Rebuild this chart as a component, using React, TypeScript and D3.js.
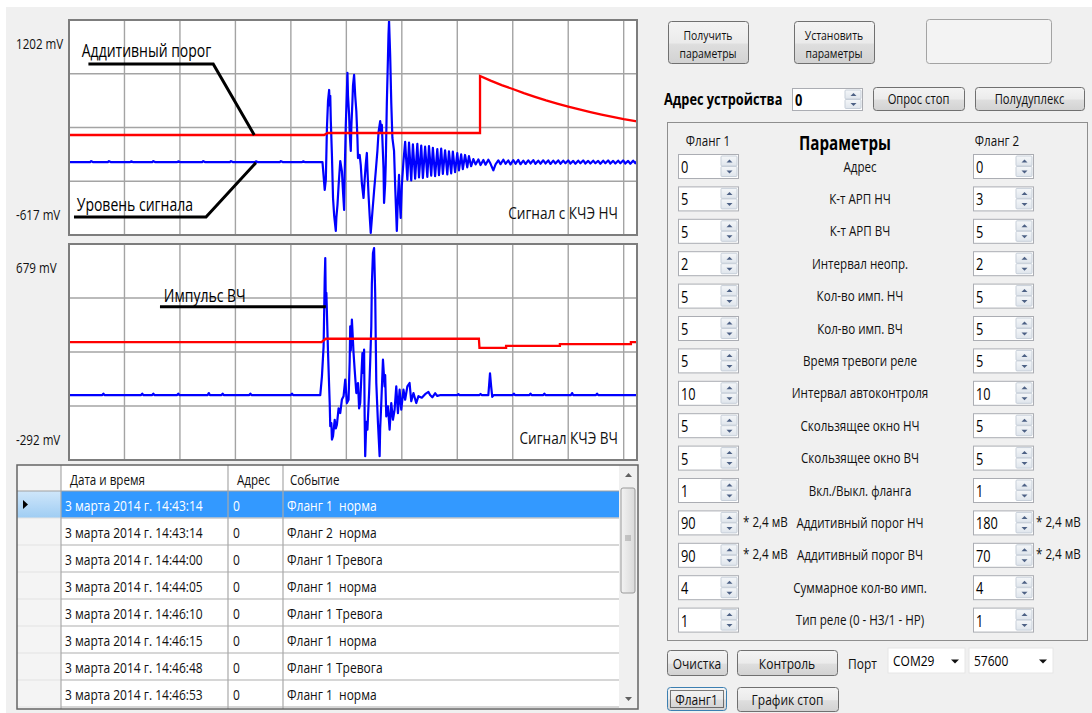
import React from 'react';
import * as d3 from 'd3';

const FONT = '"Segoe UI", "Open Sans", "Noto Sans", sans-serif';
const SX = 0.8; // the capture is squeezed horizontally

// samples: [index 0..1024, mV]
const nfRange: [number, number] = [-617, 1202];
const hfRange: [number, number] = [-292, 679];

const nfSignal: [number, number][] = [
  [0, 0], [38, 0], [40, 8], [43, 0], [70, 0], [72, 8], [75, 0], [110, 0], [112, 6], [115, 0],
  [150, 0], [152, 8], [155, 0], [195, 0], [197, 6], [200, 0], [240, 0], [242, 8], [245, 0],
  [290, 0], [292, 8], [295, 0], [335, 0], [337, 6], [340, 0], [380, 0], [382, 8], [385, 0],
  [420, 0], [422, 6], [425, 0], [457, 0],
  [461, -236], [463, -150], [465, 288], [467, 520], [469, 610], [470, 480], [471, 560], [472, 347],
  [474, 60], [476, -304], [478, -450], [481, -583], [482, -470], [484, -363], [486, -200],
  [489, 9], [492, -76], [494, -250], [496, -405], [497, -100], [499, 314], [501, 600], [502, 754],
  [503, 560], [505, 398], [506, 250], [508, 94], [509, 300], [511, 517], [512, 650], [514, 737],
  [516, 560], [518, 432], [520, 200], [521, 34], [524, 60], [526, -25], [528, -180], [531, -304],
  [533, -150], [535, -20], [537, 77], [538, -60], [540, -279], [542, -450], [544, -600], [547, -420],
  [550, -245], [553, -80], [556, 94], [558, 250], [561, 347], [563, 250], [564, 314], [567, -50],
  [568, -346], [570, -180], [571, -25], [573, 500], [575, 880], [576, 1080], [577, 1193], [578, 1050],
  [579, 906], [581, 500], [583, 204], [586, 94], [588, -200], [591, -583], [593, -300], [595, -109],
  [596, -300], [598, -473], [600, -200], [603, 9],
  [606, 172], [610, -150], [613, 165], [617, -155], [620, 150], [624, -140], [628, 155], [631, -130],
  [635, 140], [638, -135], [642, 130], [646, -125], [649, 135], [653, -115], [656, 120], [660, -120],
  [664, 110], [667, -110], [671, 115], [674, -100], [678, 100], [682, -105], [685, 90], [689, -95],
  [692, 88], [696, -85], [700, 75], [703, -70], [707, 65], [710, -60], [714, 60], [718, -45],
  [721, 50], [725, -35],
  [729, 25], [733, -20], [738, 22], [742, -25], [747, 18], [751, -22], [756, 20], [760, -15],
  [765, -70], [769, -20], [774, 15], [778, -18], [783, 20], [787, -15], [792, 14], [796, -20],
  [801, 16], [805, -14], [810, 18], [814, -18], [819, 12], [823, -16], [828, 15], [832, -12],
  [837, 16], [841, -15], [846, 12], [850, -14], [855, 15], [859, -12], [864, 14], [868, -16],
  [873, 12], [877, -12], [882, 14], [886, -14], [891, 12], [895, -10], [900, 14], [904, -12],
  [909, 10], [913, -14], [918, 12], [922, -10], [927, 14], [931, -12], [936, 10], [940, -12],
  [945, 12], [949, -10], [954, 10], [958, -14], [963, 12], [967, -10], [972, 14], [976, -12],
  [981, 10], [985, -12], [990, 12], [994, -10], [999, 14], [1003, -12], [1008, 10], [1012, -14],
  [1017, 12], [1021, -10], [1024, 8],
];

const nfThreshold: [number, number][] = [
  [0, 229], [460, 229], [466, 246], [741, 246], [741, 728], [760, 689], [780, 651], [800, 618],
  [820, 583], [840, 552], [860, 522], [880, 495], [900, 470], [920, 446], [940, 423], [960, 402],
  [980, 383], [1000, 364], [1024, 344],
];

const hfSignal: [number, number][] = [
  [0, 0], [60, 0], [62, 6], [64, 0], [130, 0], [132, 6], [134, 0], [150, 0], [152, 6], [154, 0],
  [195, 0], [197, 6], [199, 0], [250, 0], [252, 9], [254, 0], [275, 0], [277, 6], [279, 0],
  [325, 0], [327, 6], [329, 0], [400, 0], [402, 6], [404, 0], [453, 0],
  [456, 84], [459, 219], [461, 520], [462, 616], [463, 400], [464, 459], [467, 189], [470, -36],
  [471, -140], [473, -126], [474, -200], [476, -185], [479, -111], [481, -150], [483, -133],
  [486, -60], [489, -81], [492, -20], [495, -5], [498, 69], [501, -36], [504, -21], [506, 150],
  [507, 309], [508, 200], [510, 339], [513, 189], [515, 114], [518, 9], [521, 54], [523, -60],
  [525, -36], [527, 80], [529, 189], [530, 100], [532, 204], [533, -96], [534, -275], [536, -120],
  [538, -156], [541, 9], [543, 150], [545, 309], [546, 500], [548, 639], [550, 661], [551, 560],
  [552, 459], [553, 250], [554, 54], [557, -126], [560, -275], [561, -150], [563, -36], [566, 159],
  [569, 39], [570, 90], [572, -96], [575, -51], [578, -156], [581, -36], [584, -111], [587, -66],
  [590, 39], [593, -81], [596, 24], [599, -66], [603, 24], [606, -21], [610, 39], [614, 54],
  [617, -28], [621, 9], [626, -36], [630, -5], [636, -12], [642, 4], [648, 14], [651, 0],
  [655, -10], [660, 8], [664, -4], [670, 0], [700, 0], [702, 4], [704, 0], [740, 0], [742, 5],
  [744, 0], [756, 0], [759, 98], [761, 40], [763, -8], [766, 0], [800, 0], [802, 6], [804, 0],
  [830, 0], [832, 6], [834, 0], [855, 0], [857, 6], [859, 0], [905, 0], [907, 9], [909, 0],
  [950, 0], [952, 6], [954, 0], [1024, 0],
];

const hfThreshold: [number, number][] = [
  [0, 238], [455, 238], [463, 253], [739, 253], [740, 212], [788, 212], [788, 221], [885, 221],
  [885, 229], [1013, 229], [1013, 238], [1024, 238],
];

// callouts, anchored in data units
const nfNotes = [
  { text: 'Аддитивный порог', at: [23, 948], path: [[35, 830], [260, 830], [334, 229]] },
  { text: 'Уровень сигнала', at: [14, -355], path: [[9, -465], [247, -465], [337, -5]] },
];
const hfNotes = [
  { text: 'Импульс ВЧ', at: [171, 450], path: [[164, 397], [463, 397]] },
];

const logColumns = ['Дата и время', 'Адрес', 'Событие'];
const logDates = [
  '3 марта 2014 г. 14:43:14', '3 марта 2014 г. 14:43:14', '3 марта 2014 г. 14:44:00',
  '3 марта 2014 г. 14:44:05', '3 марта 2014 г. 14:46:10', '3 марта 2014 г. 14:46:15',
  '3 марта 2014 г. 14:46:48', '3 марта 2014 г. 14:46:53',
];
const logAddr = ['0', '0', '0', '0', '0', '0', '0', '0'];
const logEvents = [
  'Фланг 1  норма', 'Фланг 2  норма', 'Фланг 1 Тревога', 'Фланг 1  норма',
  'Фланг 1 Тревога', 'Фланг 1  норма', 'Фланг 1 Тревога', 'Фланг 1  норма',
];

const paramLabels = [
  'Адрес', 'К-т АРП НЧ', 'К-т АРП ВЧ', 'Интервал неопр.', 'Кол-во имп. НЧ', 'Кол-во имп. ВЧ',
  'Время тревоги реле', 'Интервал автоконтроля', 'Скользящее окно НЧ', 'Скользящее окно ВЧ',
  'Вкл./Выкл. фланга', 'Аддитивный порог НЧ', 'Аддитивный порог ВЧ', 'Суммарное кол-во имп.',
  'Тип реле (0 - НЗ/1 - НР)',
];
const flank1Values = ['0', '5', '5', '2', '5', '5', '5', '10', '5', '5', '1', '90', '90', '4', '1'];
const flank2Values = ['0', '3', '5', '2', '5', '5', '5', '10', '5', '5', '1', '180', '70', '4', '1'];
const unitRows = [11, 12];

function T({ x, y, size = 13, anchor = 'start', weight = 400, fill = '#111', children }: any) {
  return (
    <text transform={`translate(${x},${y}) scale(${SX},1)`} fontSize={size} fontFamily={FONT}
      fontWeight={weight} fill={fill} textAnchor={anchor} dominantBaseline="central"
      style={{ whiteSpace: 'pre' }}>{children}</text>
  );
}

function Scope({ top, bottom, range, signal, threshold, notes, title }: any) {
  const left = 69, right = 637;
  const x = d3.scaleLinear().domain([0, 1024]).range([left, right]);
  const y = d3.scaleLinear().domain(range).range([bottom, top]);
  const line = d3.line<number[]>().x(d => x(d[0])).y(d => y(d[1]));
  const xTicks = d3.range(100, 1024, 100);
  const yTicks = d3.range(1, 4).map(k => range[0] + (range[1] - range[0]) * k / 4);
  const clipId = `clip${top}`;
  return (
    <g>
      <defs>
        <clipPath id={clipId}><rect x={left} y={top} width={right - left} height={bottom - top} /></clipPath>
      </defs>
      <rect x={left} y={top} width={right - left} height={bottom - top} fill="#fff" />
      {xTicks.map(t => <line key={t} x1={x(t)} x2={x(t)} y1={top} y2={bottom} stroke="#a4a4a4" strokeWidth={1.4} />)}
      {yTicks.map(v => <line key={v} x1={left} x2={right} y1={y(v)} y2={y(v)} stroke="#a4a4a4" strokeWidth={1.4} />)}
      <g clipPath={`url(#${clipId})`}>
        <path d={line(signal) || ''} fill="none" stroke="#0000ff" strokeWidth={2.2} strokeLinejoin="round" />
        <path d={line(threshold) || ''} fill="none" stroke="#ff0000" strokeWidth={2.3} />
        {notes.map((n: any) => (
          <g key={n.text}>
            <path d={line(n.path) || ''} fill="none" stroke="#000" strokeWidth={3} />
            <T x={x(n.at[0])} y={y(n.at[1])} size={17.5} fill="#000">{n.text}</T>
          </g>
        ))}
      </g>
      <T x={right - 19} y={bottom - 22} size={17} anchor="end" fill="#111">{title}</T>
      <rect x={left} y={top} width={right - left} height={bottom - top} fill="none" stroke="#7d7d7d" strokeWidth={2} />
      <T x={16} y={top + 23} size={14.5}>{`${range[1]} mV`}</T>
      <T x={16} y={bottom - 21} size={14.5}>{`${range[0]} mV`}</T>
    </g>
  );
}

function EventLog() {
  const left = 17, right = 638, top = 465, headH = 26, rowH = 27, bottom = 709;
  const cols = [61, 228, 283, 619];
  const rowY = (i: number) => top + headH + i * rowH;
  const textX = [65, 233, 287];
  const headX = [70, 237, 290];
  return (
    <g>
      <defs>
        <clipPath id="logClip"><rect x={left} y={top} width={right - left} height={bottom - top} /></clipPath>
        <linearGradient id="selHead" x1="0" y1="0" x2="0" y2="1">
          <stop offset="0" stopColor="#cfe6fa" /><stop offset="1" stopColor="#9fcdf3" />
        </linearGradient>
        <linearGradient id="thumb" x1="0" y1="0" x2="1" y2="0">
          <stop offset="0" stopColor="#f3f3f3" /><stop offset="1" stopColor="#d9d9d9" />
        </linearGradient>
      </defs>
      <rect x={left} y={top} width={right - left} height={bottom - top} fill="#fff" />
      <g clipPath="url(#logClip)">
        <rect x={left} y={top} width={cols[0] - left} height={bottom - top} fill="#f4f4f4" />
        {logDates.map((d, i) => {
          const y0 = rowY(i);
          const sel = i === 0;
          const c = sel ? '#fff' : '#111';
          return (
            <g key={i}>
              {sel && <rect x={cols[0]} y={y0} width={cols[3] - cols[0]} height={rowH} fill="#3399ff" />}
              {sel && <rect x={left} y={y0} width={cols[0] - left} height={rowH} fill="url(#selHead)" />}
              {sel && <path d={`M23,${y0 + 9} L28,${y0 + 13.5} L23,${y0 + 18} Z`} fill="#000" />}
              <line x1={cols[0]} x2={cols[3]} y1={y0 + rowH} y2={y0 + rowH} stroke="#c8c8c8" strokeWidth={1.5} />
              <line x1={left} x2={cols[0]} y1={y0 + rowH} y2={y0 + rowH} stroke="#e2e2e2" />
              <T x={textX[0]} y={y0 + rowH / 2} size={15} fill={c}>{d}</T>
              <T x={textX[1]} y={y0 + rowH / 2} size={15} fill={c}>{logAddr[i]}</T>
              <T x={textX[2]} y={y0 + rowH / 2} size={15} fill={c}>{logEvents[i]}</T>
            </g>
          );
        })}
        {cols.slice(0, 3).map(c => <line key={c} x1={c} x2={c} y1={top} y2={bottom} stroke="#a9a9a9" strokeWidth={1.2} />)}
        <line x1={left} x2={cols[3]} y1={top + headH} y2={top + headH} stroke="#a0a0a0" />
        {logColumns.map((c, i) => <T key={c} x={headX[i]} y={top + headH / 2 + 1} size={14.5}>{c}</T>)}
        {/* scrollbar */}
        <rect x={cols[3]} y={top} width={right - cols[3]} height={bottom - top} fill="#f0f0f0" />
        <path d={`M625,${top + 12} L632,${top + 12} L628.5,${top + 8} Z`} fill="#606060" />
        <rect x={621} y={488} width={14} height={105} rx={2} fill="url(#thumb)" stroke="#9a9a9a" />
        {[-2, 0, 2].map(k => <line key={k} x1={625} x2={631} y1={538 + k} y2={538 + k} stroke="#8a8a8a" strokeWidth={0.8} />)}
        <path d={`M625,${bottom - 12} L632,${bottom - 12} L628.5,${bottom - 8} Z`} fill="#606060" />
      </g>
      <rect x={left} y={top} width={right - left} height={bottom - top} fill="none" stroke="#646464" strokeWidth={1.5} />
    </g>
  );
}

function Btn({ x, y, w, h, lines, size = 14, focus = false }: any) {
  const gap = 18;
  return (
    <g>
      <rect x={x + 0.5} y={y + 0.5} width={w} height={h} rx={3} fill="url(#btnGrad)"
        stroke={focus ? '#3c7fb1' : '#707070'} />
      {focus && <rect x={x + 3.5} y={y + 3.5} width={w - 6} height={h - 6} fill="none" stroke="#000" strokeDasharray="1,1" />}
      {lines.map((s: string, i: number) => (
        <T key={s} x={x + w / 2} y={y + h / 2 + (lines.length > 1 ? 1 : 0) + (i - (lines.length - 1) / 2) * gap}
          size={lines.length > 1 ? 13 : size} anchor="middle">{s}</T>
      ))}
    </g>
  );
}

function Spin({ x, y, w, h = 24, value, bold = false }: any) {
  const bw = 17;
  const bx = x + w - bw;
  const cx = bx + bw / 2;
  return (
    <g>
      <rect x={x + 0.5} y={y + 0.5} width={w} height={h} fill="#fff" stroke="#abadb3" />
      <rect x={bx} y={y + 2} width={bw - 1} height={h / 2 - 2} rx={1} fill="url(#spinGrad)" stroke="#c7cfd9" />
      <rect x={bx} y={y + h / 2 + 0.5} width={bw - 1} height={h / 2 - 2} rx={1} fill="url(#spinGrad)" stroke="#c7cfd9" />
      <path d={`M${cx - 3},${y + h / 4 + 2.5} L${cx + 3},${y + h / 4 + 2.5} L${cx},${y + h / 4 - 0.5} Z`} fill="#4d6185" />
      <path d={`M${cx - 3},${y + 3 * h / 4 - 1.5} L${cx + 3},${y + 3 * h / 4 - 1.5} L${cx},${y + 3 * h / 4 + 1.5} Z`} fill="#4d6185" />
      <T x={x + 3} y={y + h / 2 + 1} size={16} weight={bold ? 700 : 400} fill="#000">{value}</T>
    </g>
  );
}

function Combo({ x, y, w, h, value }: any) {
  return (
    <g>
      <rect x={x} y={y} width={w} height={h} fill="#fff" stroke="#e6e6e6" />
      <T x={x + 5} y={y + h / 2 - 1} size={15} fill="#000">{value}</T>
      <path d={`M${x + w - 14},${y + h / 2 - 1} L${x + w - 6},${y + h / 2 - 1} L${x + w - 10},${y + h / 2 + 3} Z`} fill="#111" />
    </g>
  );
}

function Panel() {
  const rowY = (i: number) => 154 + i * 32.4;
  return (
    <g>
      <Btn x={668} y={21} w={80} h={42} lines={['Получить', 'параметры']} />
      <Btn x={794} y={21} w={80} h={42} lines={['Установить', 'параметры']} />
      <rect x={926.5} y={19.5} width={125} height={44} rx={3} fill="#f3f3f3" stroke="#a3a3a3" />
      <T x={664} y={99} size={16} weight={700} fill="#000">Адрес устройства</T>
      <Spin x={792} y={88} w={70} h={22} value="0" bold />
      <Btn x={873} y={87} w={91} h={23} lines={['Опрос стоп']} />
      <Btn x={975} y={87} w={109} h={23} lines={['Полудуплекс']} />

      <rect x={667.5} y={122.5} width={420} height={518} fill="none" stroke="#8e8e8e" />
      <T x={708} y={140} size={14.5} anchor="middle">Фланг 1</T>
      <T x={845} y={143} size={19} anchor="middle" weight={700} fill="#000">Параметры</T>
      <T x={997} y={140} size={14.5} anchor="middle">Фланг 2</T>
      {paramLabels.map((lab, i) => (
        <g key={lab}>
          <Spin x={678} y={rowY(i)} w={60} value={flank1Values[i]} />
          <Spin x={973} y={rowY(i)} w={60} value={flank2Values[i]} />
          <T x={860} y={rowY(i) + 12} size={14.5} anchor="middle">{lab}</T>
          {unitRows.includes(i) && (
            <>
              <T x={743} y={rowY(i) + 11} size={14.5}>* 2,4 мВ</T>
              <T x={1036} y={rowY(i) + 11} size={14.5}>* 2,4 мВ</T>
            </>
          )}
        </g>
      ))}

      <Btn x={667} y={650} w={60} h={25} lines={['Очистка']} size={15} />
      <Btn x={737} y={650} w={100} h={25} lines={['Контроль']} size={15} />
      <T x={848} y={663} size={15}>Порт</T>
      <Combo x={888} y={648} w={77} h={25} value="COM29" />
      <Combo x={969} y={648} w={84} h={25} value="57600" />
      <Btn x={667} y={687} w={59} h={23} lines={['Фланг1']} size={15} focus />
      <Btn x={737} y={687} w={101} h={24} lines={['График стоп']} size={15} />
    </g>
  );
}

export default function App() {
  return (
    <svg width={1092} height={713} style={{ position: 'absolute', left: 0, top: 0, display: 'block' }}>
      <defs>
        <linearGradient id="btnGrad" x1="0" y1="0" x2="0" y2="1">
          <stop offset="0" stopColor="#f4f4f4" /><stop offset="0.5" stopColor="#ebebeb" />
          <stop offset="0.55" stopColor="#dedede" /><stop offset="1" stopColor="#d2d2d2" />
        </linearGradient>
        <linearGradient id="spinGrad" x1="0" y1="0" x2="0" y2="1">
          <stop offset="0" stopColor="#f5f7f9" /><stop offset="1" stopColor="#dfe5ec" />
        </linearGradient>
      </defs>
      <rect width={1092} height={713} fill="#fff" />
      <rect x={6} y={7} width={1086} height={706} fill="#f0f0f0" />
      <Scope top={20} bottom={235} range={nfRange} signal={nfSignal} threshold={nfThreshold}
        notes={nfNotes} title="Сигнал с КЧЭ НЧ" />
      <Scope top={244} bottom={460} range={hfRange} signal={hfSignal} threshold={hfThreshold}
        notes={hfNotes} title="Сигнал КЧЭ ВЧ" />
      <EventLog />
      <Panel />
    </svg>
  );
}
